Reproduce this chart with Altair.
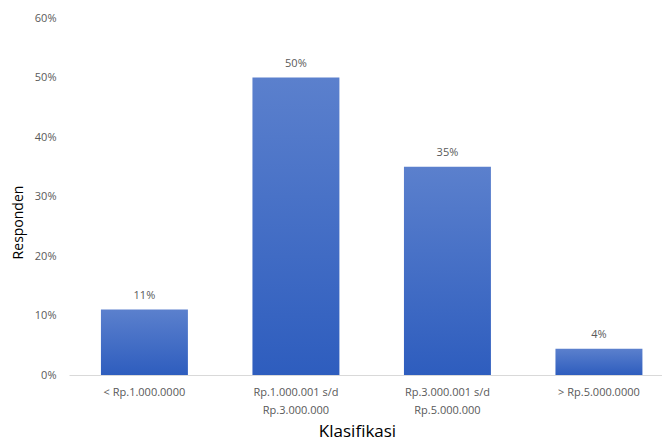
import altair as alt
import pandas as pd

categories = ["< Rp.1.000.0000", "Rp.1.000.001 s/d\nRp.3.000.000", "Rp.3.000.001 s/d\nRp.5.000.000", "> Rp.5.000.0000"]
values = [0.11, 0.50, 0.35, 0.044]
labels = ["11%", "50%", "35%", "4%"]

df = pd.DataFrame({"kategori": categories, "nilai": values, "label": labels})

FONT = "Open Sans"
GREY = "#595959"

x = alt.X(
    "kategori:N",
    sort=categories,
    scale=alt.Scale(paddingInner=0.426, paddingOuter=0.17, align=0.62),
    axis=alt.Axis(
        title="Klasifikasi",
        labelAngle=0,
        labelExpr="split(datum.label, '\\n')",
        labelFont=FONT,
        labelFontSize=11,
        labelColor=GREY,
        labelLineHeight=18,
        labelPadding=11,
        ticks=False,
        domainColor="#d9d9d9",
        domainWidth=1,
        titleFont=FONT,
        titleFontSize=17,
        titleFontWeight="normal",
        titleColor="#000000",
        titleX=288,
        titleY=61,
        titleBaseline="alphabetic",
    ),
)

y = alt.Y(
    "nilai:Q",
    scale=alt.Scale(domain=[0, 0.6]),
    axis=alt.Axis(
        title="Responden",
        format=".0%",
        values=[0, 0.1, 0.2, 0.3, 0.4, 0.5, 0.6],
        grid=False,
        domain=False,
        ticks=False,
        labelFont=FONT,
        labelFontSize=11,
        labelColor=GREY,
        labelPadding=13,
        titleFont=FONT,
        titleFontSize=14,
        titleFontWeight="normal",
        titleColor="#000000",
        titleX=-51,
        titleY=204,
        titleAngle=270,
        titleBaseline="middle",
    ),
)

bars = alt.Chart(df).mark_bar(
    color=alt.Gradient(
        gradient="linear",
        x1=0, x2=0, y1=0, y2=1,
        stops=[alt.GradientStop(color="#5B80CD", offset=0),
               alt.GradientStop(color="#2E5DBE", offset=1)],
    )
).encode(x=x, y=y)

text = alt.Chart(df).mark_text(
    dy=-14, font=FONT, fontSize=11, color=GREY
).encode(x=alt.X("kategori:N", sort=categories), y="nilai:Q", text="label:N")

chart = (bars + text).properties(
    width=593,
    height=357,
    autosize=alt.AutoSizeParams(type="none"),
    padding={"left": 69, "top": 18, "right": 0, "bottom": 66},
).configure_view(stroke=None)

chart.save("out.html", embed_options={"renderer": "svg", "actions": False})
